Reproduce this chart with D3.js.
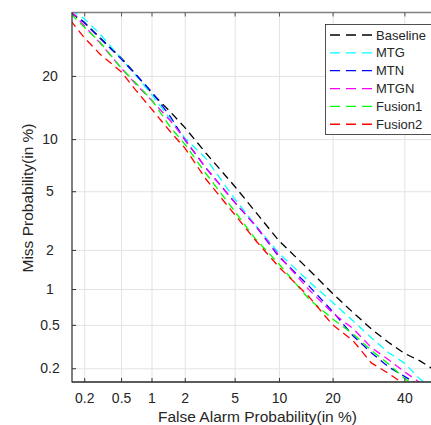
<!DOCTYPE html>
<html>
<head>
<meta charset="utf-8">
<script src="https://cdn.jsdelivr.net/npm/d3@7"></script>
<style>
  body { margin: 0; background: #fff; }
  svg { display: block; font-family: "Liberation Sans", Arial, sans-serif; }
</style>
</head>
<body>
<svg width="431" height="425"></svg>
<script>
// false alarm grid (in %) shared by all curves
var faGrid = [0.14, 0.15, 0.2, 0.3, 0.5, 0.7, 1, 1.5, 2, 3, 5, 7, 10, 15, 20, 25, 30, 35, 40, 45, 50];

// miss probability (in %) for each system, read at faGrid
var baselineMiss = [34.4, 33.9, 32.0, 28.2, 23.75, 20.4, 16.9, 13.7, 11.5, 8.4, 5.37, 3.7, 2.33, 1.42, 0.92, 0.64, 0.46, 0.35, 0.277, 0.235, 0.19];
var mtgMiss      = [35.1, 34.7, 32.9, 29.1, 23.6, 20.2, 16.6, 12.6, 10.13, 7.84, 4.48, 3.0, 1.89, 1.15, 0.777, 0.542, 0.384, 0.282, 0.224, 0.157, 0.12];
var mtnMiss      = [34.6, 34.1, 32.0, 28.1, 23.5, 20.3, 17.1, 13.0, 9.92, 6.92, 4.26, 2.98, 1.78, 1.06, 0.653, 0.40, 0.28, 0.207, 0.167, 0.135, 0.11];
var mtgnMiss     = [34.8, 34.2, 31.2, 27.0, 21.6, 18.5, 15.6, 12.4, 10.0, 6.9, 4.26, 3.0, 1.82, 0.99, 0.633, 0.464, 0.313, 0.242, 0.185, 0.145, 0.12];
var fusion1Miss  = [34.1, 33.5, 30.8, 27.2, 21.6, 18.7, 15.7, 11.5, 9.4, 6.41, 3.72, 2.41, 1.57, 0.83, 0.563, 0.417, 0.295, 0.221, 0.16, 0.125, 0.1];
var fusion2Miss  = [32.5, 31.6, 28.3, 24.5, 20.85, 17.4, 14.2, 10.9, 8.97, 5.94, 3.54, 2.36, 1.49, 0.867, 0.5, 0.362, 0.225, 0.179, 0.14, 0.11, 0.09];

var seriesNames  = ['Baseline', 'MTG', 'MTN', 'MTGN', 'Fusion1', 'Fusion2'];
var seriesColors = ['#000000', '#00ffff', '#0000ff', '#ff00ff', '#00ff00', '#ff0000'];
var seriesMiss   = [baselineMiss, mtgMiss, mtnMiss, mtgnMiss, fusion1Miss, fusion2Miss];

var xTicks = [0.2, 0.5, 1, 2, 5, 10, 20, 40];
var xTickLabels = ['0.2', '0.5', '1', '2', '5', '10', '20', '40'];
var yTicks = [0.2, 0.5, 1, 2, 5, 10, 20];
var yTickLabels = ['0.2', '0.5', '1', '2', '5', '10', '20'];

// visible limits of the axes (in %)
var xLimits = [0.145, 48.6];
var yLimits = [0.147, 34.6];

// inverse of the standard normal cdf (Acklam)
function probit(p) {
  var a = [-39.69683028665376, 220.9460984245205, -275.9285104469687, 138.3577518672690, -30.66479806614716, 2.506628277459239];
  var b = [-54.47609879822406, 161.5858368580409, -155.6989798598866, 66.80131188771972, -13.28068155288572];
  var c = [-0.007784894002430293, -0.3223964580411365, -2.400758277161838, -2.549732539343734, 4.374664141464968, 2.938163982698783];
  var d = [0.007784695709041462, 0.3224671290700398, 2.445134137142996, 3.754408661907416];
  var q, r;
  if (p < 0.02425) {
    q = Math.sqrt(-2 * Math.log(p));
    return (((((c[0]*q+c[1])*q+c[2])*q+c[3])*q+c[4])*q+c[5]) / ((((d[0]*q+d[1])*q+d[2])*q+d[3])*q+1);
  } else if (p > 1 - 0.02425) {
    q = Math.sqrt(-2 * Math.log(1 - p));
    return -(((((c[0]*q+c[1])*q+c[2])*q+c[3])*q+c[4])*q+c[5]) / ((((d[0]*q+d[1])*q+d[2])*q+d[3])*q+1);
  }
  q = p - 0.5;
  r = q * q;
  return (((((a[0]*r+a[1])*r+a[2])*r+a[3])*r+a[4])*r+a[5])*q / (((((b[0]*r+b[1])*r+b[2])*r+b[3])*r+b[4])*r+1);
}

var plotLeft = 72, plotRight = 431, plotTop = 12, plotBottom = 382;

var svg = d3.select('svg');

var x = d3.scaleLinear()
  .domain([probit(xLimits[0] / 100), probit(xLimits[1] / 100)])
  .range([plotLeft, plotRight]);

var y = d3.scaleLinear()
  .domain([probit(yLimits[0] / 100), probit(yLimits[1] / 100)])
  .range([plotBottom, plotTop]);

var xTickPos = xTicks.map(function (v) { return probit(v / 100); });
var yTickPos = yTicks.map(function (v) { return probit(v / 100); });

// grid
svg.append('g')
  .attr('transform', 'translate(0,' + plotBottom + ')')
  .call(d3.axisBottom(x).tickValues(xTickPos).tickSize(-(plotBottom - plotTop)).tickFormat(''))
  .call(function (g) { g.select('.domain').remove(); })
  .selectAll('line').attr('stroke', '#e3e3e3').attr('stroke-width', 1);

svg.append('g')
  .attr('transform', 'translate(' + plotLeft + ',0)')
  .call(d3.axisLeft(y).tickValues(yTickPos).tickSize(-(plotRight - plotLeft)).tickFormat(''))
  .call(function (g) { g.select('.domain').remove(); })
  .selectAll('line').attr('stroke', '#e3e3e3').attr('stroke-width', 1);

// curves
svg.append('clipPath')
  .attr('id', 'plotClip')
  .append('rect')
  .attr('x', plotLeft)
  .attr('y', plotTop)
  .attr('width', plotRight - plotLeft)
  .attr('height', plotBottom - plotTop);

var line = d3.line()
  .x(function (d) { return x(probit(d[0] / 100)); })
  .y(function (d) { return y(probit(d[1] / 100)); });

var curves = svg.append('g').attr('clip-path', 'url(#plotClip)');

seriesMiss.forEach(function (miss, i) {
  var pts = faGrid.map(function (fa, j) { return [fa, miss[j]]; });
  curves.append('path')
    .attr('d', line(pts))
    .attr('fill', 'none')
    .attr('stroke', seriesColors[i])
    .attr('stroke-width', 1.3)
    .attr('stroke-dasharray', '8,5');
});

// box: top line
svg.append('line')
  .attr('x1', plotLeft).attr('y1', plotTop + 0.5)
  .attr('x2', plotRight).attr('y2', plotTop + 0.5)
  .attr('stroke', '#808080')
  .attr('stroke-width', 1.5);

svg.append('g')
  .attr('transform', 'translate(0,' + (plotTop + 0.5) + ')')
  .call(d3.axisTop(x).tickValues(xTickPos).tickSize(-4).tickFormat(''))
  .call(function (g) { g.select('.domain').remove(); })
  .selectAll('line').attr('stroke', '#555');

// x axis
var xAxis = svg.append('g')
  .attr('transform', 'translate(0,' + plotBottom + ')')
  .call(d3.axisBottom(x).tickValues(xTickPos).tickSize(-4).tickPadding(11)
    .tickFormat(function (d, i) { return xTickLabels[i]; }));
xAxis.select('.domain').remove();
xAxis.selectAll('line').attr('stroke', '#333');
xAxis.selectAll('text').attr('fill', '#262626').attr('font-size', 14)
  .attr('font-family', '"Liberation Sans", Arial, sans-serif');

svg.append('line')
  .attr('x1', plotLeft).attr('y1', plotBottom)
  .attr('x2', plotRight).attr('y2', plotBottom)
  .attr('stroke', '#262626')
  .attr('stroke-width', 1.3);

// y axis
var yAxis = svg.append('g')
  .attr('transform', 'translate(' + plotLeft + ',0)')
  .call(d3.axisLeft(y).tickValues(yTickPos).tickSize(-4).tickPadding(22)
    .tickFormat(function (d, i) { return yTickLabels[i]; }));
yAxis.select('.domain').remove();
yAxis.selectAll('line').attr('stroke', '#333');
yAxis.selectAll('text').attr('fill', '#262626').attr('font-size', 14)
  .attr('text-anchor', 'middle')
  .attr('font-family', '"Liberation Sans", Arial, sans-serif');

svg.append('line')
  .attr('x1', plotLeft).attr('y1', plotTop)
  .attr('x2', plotLeft).attr('y2', plotBottom + 0.6)
  .attr('stroke', '#3a3a3a')
  .attr('stroke-width', 1.3);

// axis labels
svg.append('text')
  .text('False Alarm Probability(in %)')
  .attr('x', 257.5)
  .attr('y', 422)
  .attr('text-anchor', 'middle')
  .attr('font-size', 15.5)
  .attr('fill', '#262626');

svg.append('text')
  .text('Miss Probability(in %)')
  .attr('transform', 'translate(33,198) rotate(-90)')
  .attr('text-anchor', 'middle')
  .attr('font-size', 15.5)
  .attr('fill', '#262626');

// legend
var legend = svg.append('g');

legend.append('rect')
  .attr('x', 325.5)
  .attr('y', 24.5)
  .attr('width', 130)
  .attr('height', 110)
  .attr('fill', '#fff')
  .attr('stroke', '#262626')
  .attr('stroke-width', 0.8);

seriesNames.forEach(function (name, i) {
  var ly = 35 + i * 17.85;
  legend.append('line')
    .attr('x1', 330).attr('y1', ly)
    .attr('x2', 372).attr('y2', ly)
    .attr('stroke', seriesColors[i])
    .attr('stroke-width', 1.3)
    .attr('stroke-dasharray', '10,6');
  legend.append('text')
    .text(name)
    .attr('x', 376)
    .attr('y', ly)
    .attr('dy', '0.35em')
    .attr('font-size', 13)
    .attr('fill', '#262626');
});
</script>
</body>
</html>
